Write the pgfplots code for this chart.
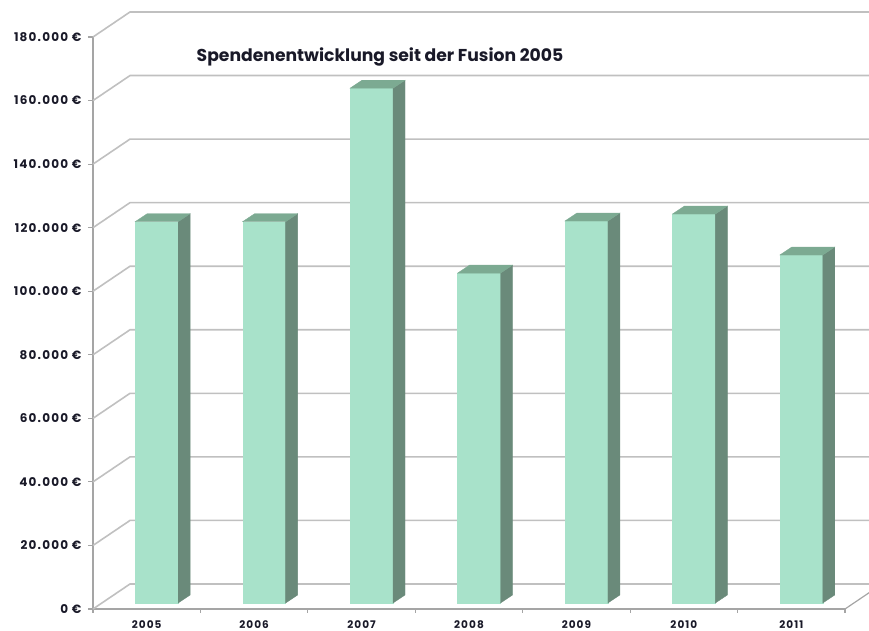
\documentclass[border=0pt]{standalone}
\usepackage{fontspec}
\setmainfont{Poppins}
\newfontfamily\tickfont{Poppins}[LetterSpace=10]
\usepackage{pgfplots}
\usepackage{pgfplotstable}
\pgfplotsset{compat=1.18}
\definecolor{frontc}{RGB}{168,226,202}
\definecolor{sidec}{RGB}{106,138,122}
\definecolor{topc}{RGB}{124,170,146}
\definecolor{gridc}{RGB}{192,192,192}
\definecolor{axisc}{RGB}{165,165,165}
\definecolor{tickc}{RGB}{25,25,40}

\pgfplotstableread{
idx year v
0 2005 120000
1 2006 120000
2 2007 162000
3 2008 103800
4 2009 120200
5 2010 122400
6 2011 109500
}\spenden

\begin{document}
\begin{tikzpicture}[x=1pt,y=1pt]
\useasboundingbox (0,0) rectangle (869,631);
\clip (0,0) rectangle (869,631);
\begin{axis}[
  at={(93pt,22pt)}, anchor=south west, scale only axis,
  width=752pt, height=572pt,
  xmin=-0.5, xmax=6.5, ymin=0, ymax=180000,
  clip=false,
  scaled y ticks=false,
  axis x line*=bottom, axis y line*=left,
  axis line style={draw=axisc, line width=1.2pt, -},
  xtick={0,1,2,3,4,5,6},
  xticklabels={2005,2006,2007,2008,2009,2010,2011},
  minor xtick={-0.5,0.5,1.5,2.5,3.5,4.5,5.5,6.5},
  major x tick style={draw=none},
  minor x tick style={draw=axisc, line width=1.2pt},
  minor tick length=4pt,
  ytick={0,20000,40000,60000,80000,100000,120000,140000,160000,180000},
  yticklabels={0 €,20.000 €,40.000 €,60.000 €,80.000 €,100.000 €,120.000 €,140.000 €,160.000 €,180.000 €},
  ytick style={draw=axisc, line width=1.2pt},
  major tick length=5pt,
  tick align=outside,
  yticklabel style={font=\tickfont\fontsize{12}{14}\selectfont\bfseries, text=tickc, xshift=-3pt},
  xticklabel style={font=\tickfont\fontsize{10.5}{12}\selectfont\bfseries, text=tickc, yshift=-3pt},
]
\pgfplotsinvokeforeach{0,20000,40000,60000,80000,100000,120000,140000,160000,180000}{
  \draw[gridc, line width=1.6pt] (axis cs:-0.5,#1) -- ++(37pt,25pt) -- ([shift={(37pt,25pt)}]axis cs:6.5,#1);
}
\draw[axisc, line width=1.2pt] (axis cs:6.5,0) -- ++(37pt,25pt);

\pgfplotsinvokeforeach{0,1,2,3,4,5,6}{
  \pgfplotstablegetelem{#1}{v}\of\spenden
  \pgfkeys{/pgf/fpu=true,/pgf/fpu/output format=fixed}%
  \pgfmathparse{\pgfplotsretval+1888}\let\T\pgfmathresult
  \pgfmathparse{\pgfplotsretval+4405}\let\TT\pgfmathresult
  \pgfkeys{/pgf/fpu=false}%
  \pgfmathsetmacro\L{#1-0.107}%
  \pgfmathsetmacro\R{#1+0.2932}%
  \pgfmathsetmacro\LL{#1+0.0047}%
  \pgfmathsetmacro\RR{#1+0.4049}%
  \edef\doit{%
    \noexpand\addplot[fill=frontc, draw=frontc, line width=0.3pt, mark=none] coordinates {(\L,1888) (\R,1888) (\R,\T) (\L,\T)} -- cycle;
    \noexpand\addplot[fill=sidec, draw=sidec, line width=0.3pt, mark=none] coordinates {(\R,1888) (\RR,4405) (\RR,\TT) (\R,\T)} -- cycle;
    \noexpand\addplot[fill=topc, draw=topc, line width=0.3pt, mark=none] coordinates {(\L,\T) (\LL,\TT) (\RR,\TT) (\R,\T)} -- cycle;
  }%
  \doit
}
\end{axis}
\node[anchor=base, font=\fontsize{17.2}{20}\selectfont\bfseries, text=tickc] at (380,569) {Spendenentwicklung seit der Fusion 2005};
\end{tikzpicture}
\end{document}
